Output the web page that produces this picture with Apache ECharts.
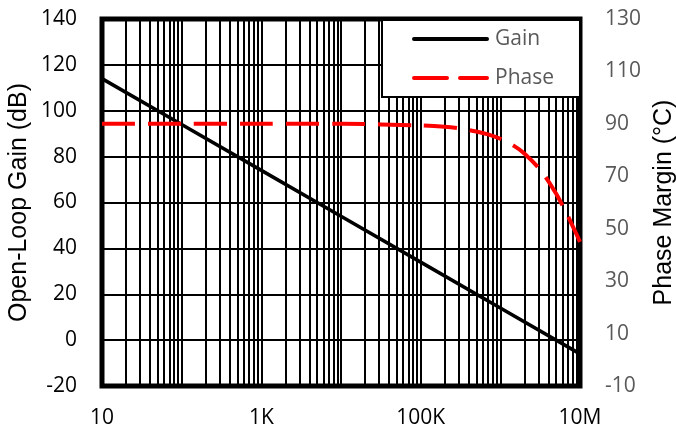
<!DOCTYPE html>
<html>
<head>
<meta charset="utf-8">
<script src="https://cdn.jsdelivr.net/npm/echarts@6/dist/echarts.min.js"></script>
<style>
  html, body { margin: 0; padding: 0; background: #fff; }
  #chart { width: 676px; height: 436px; }
</style>
</head>
<body>
<div id="chart"></div>
<script>
// Open-loop gain (dB) versus frequency (Hz)
const gainFreq = [10, 100, 1000, 10000, 100000, 1000000, 10000000];
const gainDb   = [114, 94, 74, 54, 34, 14, -6];

// Phase margin versus frequency (Hz)
const phaseFreq = [10, 100, 1000, 10000, 100000, 200000, 300000, 500000, 700000,
                   1000000, 1500000, 2000000, 3000000, 4000000, 5000000,
                   6000000, 7000000, 8000000, 9000000, 10000000];
const phaseDeg  = [90, 90, 90, 90, 89.4, 88.9, 88.3, 87.1, 86,
                   84.3, 81.5, 78.7, 73.3, 68.2, 63.4,
                   59, 55, 51.3, 48, 45];

// Axis tick labels
const xTickLabels = { 1: '10', 3: '1K', 5: '100K', 7: '10M' };
const leftTicks   = [-20, 0, 20, 40, 60, 80, 100, 120, 140];
const rightTicks  = [-10, 10, 30, 50, 70, 90, 110, 130];

// Log-paper vertical grid: 1..9 in every decade inside the frame
const logGridFreqs = [];
for (let d = 1; d <= 6; d++) {
  for (let m = 1; m <= 9; m++) {
    const f = m * Math.pow(10, d);
    if (f > 10 && f < 10000000) logGridFreqs.push(f);
  }
}

const tickFont = '"Open Sans", "Liberation Sans", sans-serif';
const titleFont = '"Liberation Sans", Arial, sans-serif';

const chart = echarts.init(document.getElementById('chart'), null, { renderer: 'canvas' });

chart.setOption({
  animation: false,
  backgroundColor: '#ffffff',
  grid: {
    left: 102, right: 96, top: 19, bottom: 50,
    outerBoundsMode: 'none',
    containLabel: false,
    show: true,
    borderColor: '#000',
    borderWidth: 5,
    backgroundColor: 'transparent'
  },
  legend: {
    orient: 'vertical',
    left: 382,
    top: 20,
    z: 10,
    padding: [8, 26, 8, 30],
    itemGap: 17,
    itemWidth: 73,
    itemHeight: 14,
    backgroundColor: '#fff',
    borderColor: '#000',
    borderWidth: 2,
    borderRadius: 0,
    itemStyle: { opacity: 0 },
    lineStyle: { width: 4, cap: 'round' },
    textStyle: { color: '#595959', fontSize: 21, fontFamily: tickFont, lineHeight: 22, padding: [0, 0, 0, 3] },
    data: ['Gain', 'Phase']
  },
  xAxis: {
    type: 'log',
    logBase: 10,
    min: 10,
    max: 10000000,
    splitNumber: 6,
    axisLine: { show: false },
    axisTick: { show: false },
    splitLine: { show: false },
    axisLabel: {
      margin: 22,
      color: '#000',
      fontSize: 21,
      fontFamily: tickFont,
      formatter: function (v) {
        const e = Math.round(Math.log10(v));
        return xTickLabels[e] || '';
      }
    }
  },
  yAxis: [
    {
      type: 'value',
      min: -20,
      max: 140,
      interval: 20,
      position: 'left',
      name: 'Open-Loop Gain (dB)',
      nameLocation: 'middle',
      nameRotate: 90,
      nameGap: 70,
      nameMoveOverlap: false,
      nameTextStyle: { color: '#000', fontSize: 25, fontFamily: titleFont },
      axisLine: { show: false },
      axisTick: { show: false },
      axisLabel: {
        margin: 25, color: '#000', fontSize: 21, fontFamily: tickFont,
        customValues: leftTicks
      },
      splitLine: { show: true, lineStyle: { color: '#000', width: 2 } }
    },
    {
      type: 'value',
      min: -10,
      max: 130,
      position: 'right',
      name: 'Phase Margin (°C)',
      nameLocation: 'middle',
      nameRotate: 90,
      nameGap: 70,
      nameTextStyle: { color: '#000', fontSize: 25, fontFamily: titleFont },
      axisLine: { show: false },
      axisTick: { show: false },
      axisLabel: {
        margin: 25, color: '#595959', fontSize: 21, fontFamily: tickFont,
        customValues: rightTicks
      },
      splitLine: { show: false }
    }
  ],
  series: [
    {
      // vertical log grid lines
      name: 'grid',
      type: 'line',
      data: [],
      z: 1,
      silent: true,
      markLine: {
        z: 1,
        silent: true,
        symbol: ['none', 'none'],
        label: { show: false },
        animation: false,
        lineStyle: { color: '#000', width: 2, type: 'solid' },
        emphasis: { disabled: true },
        data: logGridFreqs.map(f => ({ xAxis: f }))
      }
    },
    {
      name: 'Gain',
      type: 'line',
      yAxisIndex: 0,
      z: 3,
      symbol: 'none',
      showSymbol: false,
      lineStyle: { color: '#000', width: 3.5 },
      itemStyle: { color: '#000' },
      data: gainFreq.map((f, i) => [f, gainDb[i]])
    },
    {
      name: 'Phase',
      type: 'line',
      yAxisIndex: 1,
      z: 4,
      smooth: 0.3,
      symbol: 'none',
      showSymbol: false,
      lineStyle: { color: '#ff0000', width: 4, type: [33, 13] },
      itemStyle: { color: '#ff0000' },
      data: phaseFreq.map((f, i) => [f, phaseDeg[i]])
    }
  ]
});
</script>
</body>
</html>
